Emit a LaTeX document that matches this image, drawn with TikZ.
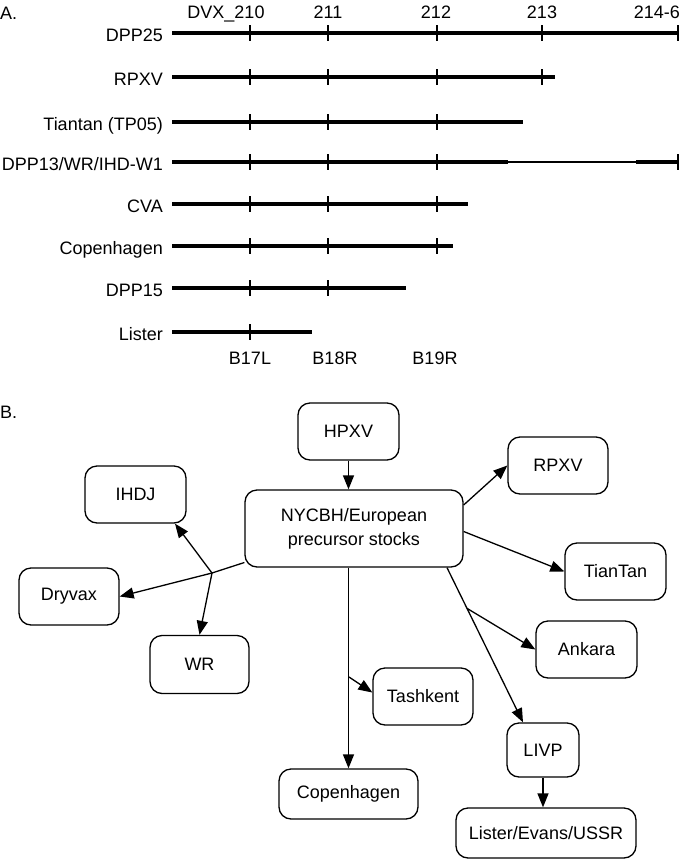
\documentclass[tikz,border=0pt]{standalone}
\usepackage{fontspec}
\setmainfont{Liberation Sans}
\usetikzlibrary{arrows.meta,calc}

\tikzset{
  strain/.style={draw, line width=1.3pt, rounded corners=12pt, align=center,
    minimum width=101pt, minimum height=57pt, inner sep=2pt},
  link/.style={line width=1.3pt, -{Triangle[length=14pt,width=11pt]}},
  trunk/.style={line width=1.3pt},
  seg/.style={line width=4.6pt},
  gap/.style={line width=1.4pt},
  tickline/.style={line width=1.3pt},
  rowname/.style={anchor=base east, inner sep=0pt},
  colname/.style={anchor=base, inner sep=0pt},
}

\begin{document}
\begin{tikzpicture}[x=1pt, y=-1pt, font=\fontsize{18}{24}\selectfont]
\useasboundingbox (0,0) rectangle (680,860);

% Panel A
\node[anchor=base west, inner sep=0pt] (panelA) at (0,19) {A.};

% locus headers
\node[colname] (h210) at (226,18) {DVX\_210};
\node[colname] (h211) at (328,18) {211};
\node[colname] (h212) at (436,18) {212};
\node[colname] (h213) at (542,18) {213};
\node[anchor=base east, inner sep=0pt] (h214) at (680,18) {214-6};

% DPP25
\node[rowname] (rDPP25) at (163,41) {DPP25};
\draw[seg] (172,33) -- (678,33);
\foreach \x in {250,328,437,542,678} \draw[tickline] (\x,25) -- (\x,41);

% RPXV
\node[rowname] (rRPXV) at (163,85) {RPXV};
\draw[seg] (172,77) -- (555,77);
\foreach \x in {250,328,437,542} \draw[tickline] (\x,69) -- (\x,85);

% Tiantan
\node[rowname] (rTiantan) at (163,130) {Tiantan (TP05)};
\draw[seg] (172,122) -- (523,122);
\foreach \x in {250,328,437} \draw[tickline] (\x,114) -- (\x,130);

% DPP13/WR/IHD-W1 (thin part = deletion)
\node[rowname] (rDPP13) at (163,170) {DPP13/WR/IHD-W1};
\draw[seg] (172,162) -- (508,162);
\draw[gap] (508,162) -- (636,162);
\draw[seg] (636,162) -- (678,162);
\foreach \x in {250,328,437,678} \draw[tickline] (\x,154) -- (\x,170);

% CVA
\node[rowname] (rCVA) at (163,212) {CVA};
\draw[seg] (172,204) -- (468,204);
\foreach \x in {250,328,437} \draw[tickline] (\x,196) -- (\x,212);

% Copenhagen
\node[rowname] (rCopen) at (163,254) {Copenhagen};
\draw[seg] (172,246) -- (453,246);
\foreach \x in {250,328,437} \draw[tickline] (\x,238) -- (\x,254);

% DPP15
\node[rowname] (rDPP15) at (163,296) {DPP15};
\draw[seg] (172,288) -- (406,288);
\foreach \x in {250,328} \draw[tickline] (\x,280) -- (\x,296);

% Lister
\node[rowname] (rLister) at (163,340) {Lister};
\draw[seg] (172,332) -- (312,332);
\draw[tickline] (250,324) -- (250,340);

% gene labels
\node[colname] (b17) at (250,364) {B17L};
\node[colname] (b18) at (335,364) {B18R};
\node[colname] (b19) at (435,364) {B19R};

% Panel B
\node[anchor=base west, inner sep=0pt] (panelB) at (0,418) {B.};

\node[strain] (hpxv) at (348.5,431.5) {HPXV};
\node[strain, minimum width=218pt, minimum height=77pt] (nycbh) at (354,528.5) {NYCBH/European\\precursor stocks};
\node[strain, minimum width=100pt] (rpxv) at (558,465.5) {RPXV};
\node[strain] (tiantan) at (615.5,571.5) {TianTan};
\node[strain] (ihdj) at (135.5,494.5) {IHDJ};
\node[strain, minimum width=100pt] (dryvax) at (69,596.5) {Dryvax};
\node[strain, minimum width=99pt, minimum height=58pt] (wr) at (199.5,664.5) {WR};
\node[strain] (ankara) at (586.5,649.5) {Ankara};
\node[strain, minimum width=100pt] (tashkent) at (423,696.5) {Tashkent};
\node[strain, minimum width=72pt, minimum height=54pt] (livp) at (543,750) {LIVP};
\node[strain, minimum width=139pt, minimum height=50pt] (copen) at (348.5,794) {Copenhagen};
\node[strain, minimum width=180pt, minimum height=50pt] (lister) at (546,833) {Lister/Evans/USSR};

% branch points
\coordinate (wfork) at (212,573);
\coordinate (tkfork) at (349,677);
\coordinate (lvout) at ([xshift=93pt]nycbh.south);
\coordinate (lvin) at ([xshift=-20pt]livp.north);
\coordinate (akfork) at ($(lvout)!0.263!(lvin)$);

\draw[link] (hpxv.south) -- (hpxv.south |- nycbh.north);
\draw[link] ([yshift=23.5pt]nycbh.east) -- (rpxv.west);
\draw[link] ([yshift=-3pt]nycbh.east) -- (tiantan.west);

\draw[trunk] ([yshift=-34pt]nycbh.west) -- (wfork);
\draw[link] (wfork) -- ([xshift=39.5pt]ihdj.south);
\draw[link] (wfork) -- (dryvax.east);
\draw[link] (wfork) -- (wr.north);

\draw[link] (nycbh.south -| copen.north) -- (copen.north);
\draw[link] (tkfork) -- ([yshift=4pt]tashkent.west);

\draw[link] (lvout) -- (lvin);
\draw[link] (akfork) -- (ankara.west);
\draw[link] (livp.south) -- (livp.south |- lister.north);

\end{tikzpicture}
\end{document}
